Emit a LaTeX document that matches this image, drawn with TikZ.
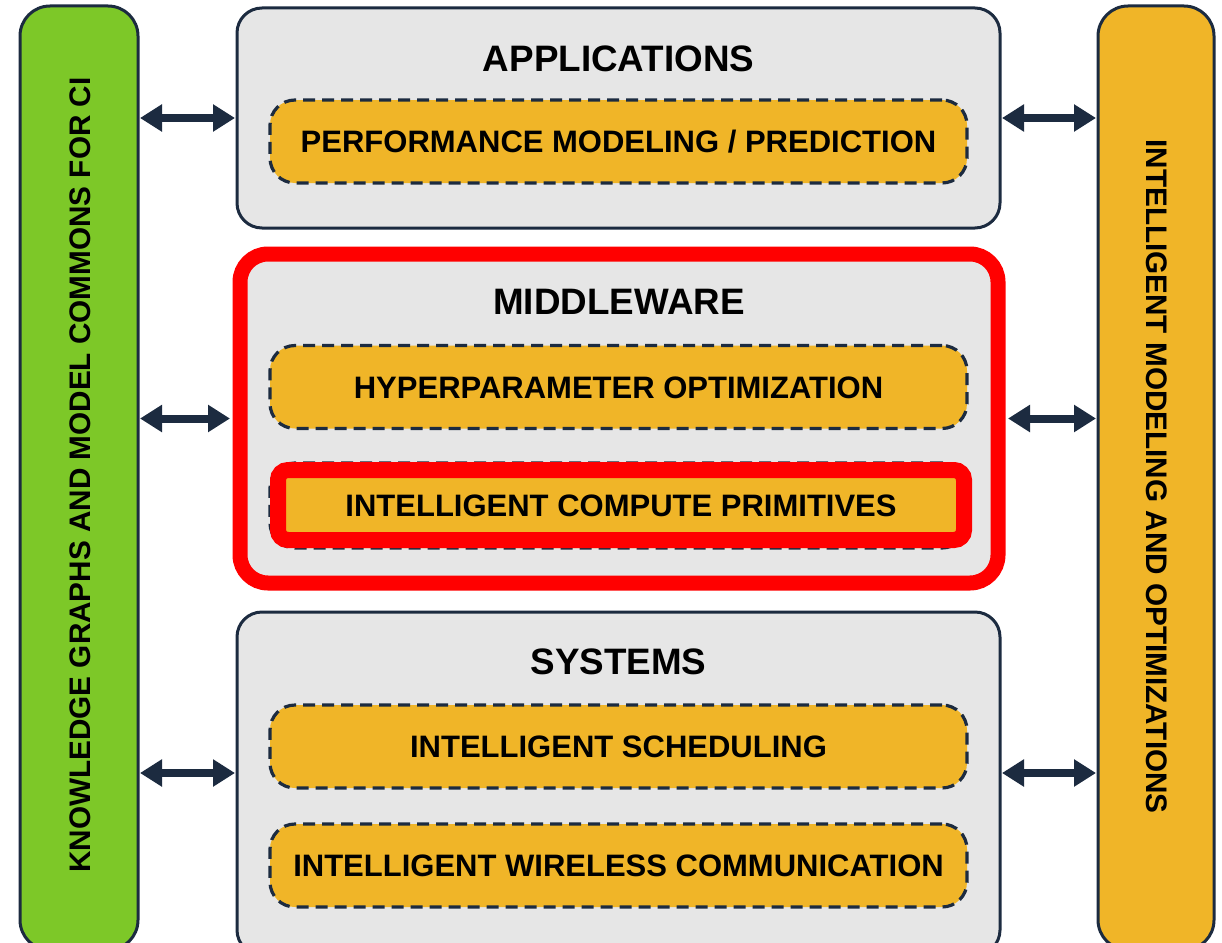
\documentclass[tikz,border=0pt]{standalone}
\usepackage{fontspec}
\setmainfont{Liberation Sans}
\usetikzlibrary{arrows.meta}
\definecolor{navy}{HTML}{1C2B40}
\definecolor{kgreen}{HTML}{7DC828}
\definecolor{korange}{HTML}{F0B528}
\definecolor{kgray}{HTML}{E6E6E6}
\definecolor{kred}{HTML}{FF0000}
\tikzset{
  sidebar/.style={draw=navy, line width=3pt, rounded corners=30pt, minimum width=118pt, minimum height=944pt, inner sep=0pt, outer sep=0pt},
  vlabel/.style={font=\bfseries\fontsize{29.7}{32}\selectfont, text height=21pt, text depth=0pt, inner sep=0pt},
  layer/.style={fill=kgray, draw=navy, line width=3pt, rounded corners=25pt, minimum width=763pt, inner sep=0pt, outer sep=0pt},
  title/.style={font=\bfseries\fontsize{36.8}{40}\selectfont, anchor=base, inner sep=0pt},
  sub/.style={fill=korange, draw=navy, line width=3.2pt, dash pattern=on 12pt off 7pt, rounded corners=25pt,
    minimum width=697pt, minimum height=83pt, inner sep=0pt, outer sep=0pt,
    font=\bfseries\fontsize{31}{33}\selectfont, text height=22pt, text depth=0pt},
  arr/.style={draw=navy, line width=8pt, {Triangle[length=22pt,width=26pt]}-{Triangle[length=22pt,width=26pt]}},
}
\begin{document}
\begin{tikzpicture}[x=1pt,y=-1pt]
\useasboundingbox (0,0) rectangle (1222,942);
\clip (0,0) rectangle (1222,942);

% side bars
\node[sidebar, fill=kgreen] (kg) at (79,478) {};
\node[vlabel, rotate=90] (kgtext) at (80,475) {KNOWLEDGE GRAPHS AND MODEL COMMONS FOR CI};
\node[sidebar, fill=korange, minimum width=116pt] (im) at (1156,478) {};
\node[vlabel, rotate=-90] (imtext) at (1157,476.5) {INTELLIGENT MODELING AND OPTIMIZATIONS};

% applications
\node[layer, minimum height=220pt] (app) at (618.5,118) {};
\node[title] (apptitle) at (618.5,71) {APPLICATIONS};
\node[sub] (perf) at (618.5,141.5) {PERFORMANCE MODELING / PREDICTION};

% middleware
\node[layer, draw=kred, line width=15pt, rounded corners=28pt, minimum width=758pt, minimum height=329pt] (mw) at (619,418.5) {};
\node[title] (mwtitle) at (619,314) {MIDDLEWARE};
\node[sub] (hyper) at (618.5,387) {HYPERPARAMETER OPTIMIZATION};
\node[sub, minimum height=85pt] (computeback) at (618.5,505.5) {};
\node[sub, draw=kred, solid, line width=16pt, rounded corners=10pt, minimum width=686pt, minimum height=70pt] (compute) at (621,505) {INTELLIGENT COMPUTE PRIMITIVES};

% systems
\node[layer, minimum height=343pt] (sys) at (618.5,783.5) {};
\node[title] (systitle) at (618.5,674) {SYSTEMS};
\node[sub] (sched) at (618.5,746.5) {INTELLIGENT SCHEDULING};
\node[sub] (wireless) at (618.5,865.5) {INTELLIGENT WIRELESS COMMUNICATION};

% arrows
\draw[arr, shorten <=2pt, shorten >=2pt] (kg.east |- app.west) -- (app.west);
\draw[arr, shorten <=2pt, shorten >=2pt] (kg.east |- mw.west) -- ([xshift=-8pt]mw.west);
\draw[arr, shorten <=2pt, shorten >=2pt] (kg.east |- 0,773) coordinate (kgs) -- (sys.west |- kgs);
\draw[arr, shorten <=2pt, shorten >=2pt] (app.east) -- (im.west |- app.east);
\draw[arr, shorten <=2pt, shorten >=2pt] ([xshift=8pt]mw.east) -- (im.west |- mw.east);
\draw[arr, shorten <=2pt, shorten >=2pt] (sys.east |- kgs) -- (im.west |- kgs);
\end{tikzpicture}
\end{document}
